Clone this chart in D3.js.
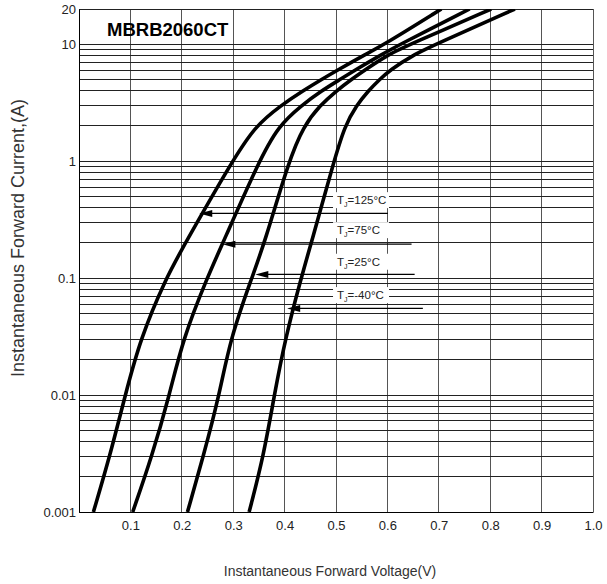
<!DOCTYPE html>
<html>
<head>
<meta charset="utf-8">
<script src="https://cdn.jsdelivr.net/npm/d3@7"></script>
<style>
  body { margin: 0; background: #fff; }
  svg { display: block; font-family: "Liberation Sans", Arial, sans-serif; }
</style>
</head>
<body>
<div class="svgGraphique"></div>
<script>
// Courant (A) commun à toutes les courbes
const currentLevels = [0.001, 0.003, 0.01, 0.03, 0.1, 0.2, 1, 2, 3, 4, 5, 6, 8, 10, 20];

// Tension directe (V) lue sur chaque courbe
const voltsT125 = [0.028, 0.060, 0.090, 0.119, 0.169, 0.207, 0.298, 0.343, 0.393, 0.436, 0.472, 0.503, 0.553, 0.595, 0.705];
const voltsT75  = [0.1045, 0.142, 0.176, 0.202, 0.249, 0.280, 0.350, 0.388, 0.433, 0.472, 0.508, 0.537, 0.585, 0.625, 0.760];
const voltsT25  = [0.211, 0.242, 0.273, 0.294, 0.336, 0.361, 0.408, 0.437, 0.469, 0.501, 0.530, 0.556, 0.598, 0.645, 0.802];
const voltsTm40 = [0.331, 0.359, 0.380, 0.401, 0.432, 0.452, 0.496, 0.517, 0.540, 0.563, 0.585, 0.605, 0.648, 0.695, 0.848];

// Légendes (flèches)
const legendTemps   = ["125", "75", "25", "-40"];
const legendLabelI  = [0.464, 0.257, 0.138, 0.0716];
const legendLabelV  = 0.502;
const arrowI        = [0.357, 0.195, 0.1076, 0.055];
const arrowTipV     = [0.234, 0.279, 0.343, 0.405];
const arrowEndV     = [0.601, 0.647, 0.653, 0.669];

// Graduations
const xTicks = [0.1, 0.2, 0.3, 0.4, 0.5, 0.6, 0.7, 0.8, 0.9, 1.0];
const xTickLabels = ["0.1", "0.2", "0.3", "0.4", "0.5", "0.6", "0.7", "0.8", "0.9", "1.0"];
const yTicks = [0.001, 0.01, 0.1, 1, 10, 20];
const yTickLabels = ["0.001", "0.01", "0.1", "1", "10", "20"];

const width = 607, height = 584;
const margin = { left: 79, right: 14, top: 9, bottom: 72 };

const svg = d3.create('svg')
    .attr('width', width)
    .attr('height', height);

const x = d3.scaleLinear().domain([0, 1]).range([margin.left, width - margin.right]);
const y = d3.scaleLog().domain([0.001, 20]).range([height - margin.bottom, margin.top]);

// Grille verticale
svg.append('g')
    .selectAll('line')
    .data(xTicks)
    .join('line')
    .attr('x1', d => x(d)).attr('x2', d => x(d))
    .attr('y1', y.range()[0]).attr('y2', y.range()[1])
    .attr('stroke', '#555').attr('stroke-width', 1)
    .attr('shape-rendering', 'crispEdges');

// Grille horizontale (1..9 par décade)
const gridI = [];
[0.001, 0.01, 0.1, 1].forEach(dec => {
    for (let k = 1; k <= 9; k++) gridI.push(dec * k);
});
gridI.push(10, 20);
svg.append('g')
    .selectAll('line')
    .data(gridI)
    .join('line')
    .attr('x1', x.range()[0]).attr('x2', x.range()[1])
    .attr('y1', d => y(d)).attr('y2', d => y(d))
    .attr('stroke', '#222').attr('stroke-width', 1)
    .attr('shape-rendering', 'crispEdges');

// Axes
const xAxis = d3.axisBottom(x).tickValues(xTicks).tickSize(0).tickPadding(9)
    .tickFormat((d, i) => xTickLabels[i]);
const yAxis = d3.axisLeft(y).tickValues(yTicks).tickSize(0).tickPadding(3)
    .tickFormat((d, i) => yTickLabels[i]);

svg.append('g')
    .attr('transform', `translate(0, ${y.range()[0]})`)
    .call(xAxis)
    .call(g => g.select('.domain').attr('stroke', '#000'))
    .selectAll('text').attr('font-size', 13).attr('fill', '#222')
    .attr('font-family', '"Liberation Sans", Arial, sans-serif');

svg.append('g')
    .attr('transform', `translate(${x.range()[0]}, 0)`)
    .call(yAxis)
    .call(g => g.select('.domain').attr('stroke', '#000'))
    .selectAll('text').attr('font-size', 13).attr('fill', '#222')
    .attr('font-family', '"Liberation Sans", Arial, sans-serif');

// Courbes
svg.append('clipPath').attr('id', 'plotClip')
    .append('rect')
    .attr('x', x.range()[0]).attr('y', y.range()[1])
    .attr('width', x.range()[1] - x.range()[0])
    .attr('height', y.range()[0] - y.range()[1]);

const series = [voltsT125, voltsT75, voltsT25, voltsTm40]
    .map(vs => vs.map((v, i) => ({ v: v, i: currentLevels[i] })));

const line = d3.line()
    .x(d => x(d.v))
    .y(d => y(d.i))
    .curve(d3.curveBasis);

svg.append('g')
    .attr('clip-path', 'url(#plotClip)')
    .selectAll('path')
    .data(series)
    .join('path')
    .attr('d', line)
    .attr('fill', 'none')
    .attr('stroke', '#000')
    .attr('stroke-width', 3.6)
    .attr('stroke-linejoin', 'round');

// Flèches et étiquettes
const legend = svg.append('g');
legendTemps.forEach((t, k) => {
    const ay = y(arrowI[k]);
    const tipX = x(arrowTipV[k]);
    legend.append('line')
        .attr('x1', tipX + 6).attr('x2', x(arrowEndV[k]))
        .attr('y1', ay).attr('y2', ay)
        .attr('stroke', '#000').attr('stroke-width', 1.3);
    legend.append('path')
        .attr('d', `M${tipX},${ay} L${tipX + 13},${ay - 3.5} L${tipX + 13},${ay + 3.5} Z`)
        .attr('fill', '#000');

    const lx = x(legendLabelV), ly = y(legendLabelI[k]);
    const txt = legend.append('text')
        .attr('x', lx).attr('y', ly).attr('dy', '0.35em')
        .attr('font-size', 11.5).attr('fill', '#222');
    txt.append('tspan').text('T');
    txt.append('tspan').attr('font-size', 7).attr('dy', 3).text('J');
    txt.append('tspan').attr('dy', -3).text(`=${t}°C`);
    const bb = txt.node();
    legend.insert('rect', () => bb)
        .attr('x', lx - 4).attr('y', ly - 8)
        .attr('width', 56).attr('height', 16)
        .attr('fill', '#fff');
});

// Titre
svg.append('text')
    .attr('x', 107).attr('y', 36)
    .attr('font-size', 18.5).attr('font-weight', 'bold')
    .attr('fill', '#000')
    .text('MBRB2060CT');

// Titres des axes
svg.append('text')
    .attr('x', (x.range()[0] + x.range()[1]) / 2 - 6).attr('y', 576)
    .attr('text-anchor', 'middle')
    .attr('font-size', 14).attr('fill', '#333')
    .text('Instantaneous Forward Voltage(V)');

svg.append('text')
    .attr('transform', `translate(24, 238) rotate(-90)`)
    .attr('text-anchor', 'middle')
    .attr('font-size', 18).attr('fill', '#333')
    .text('Instantaneous Forward Current,(A)');

document.querySelector('.svgGraphique').appendChild(svg.node());
</script>
</body>
</html>
